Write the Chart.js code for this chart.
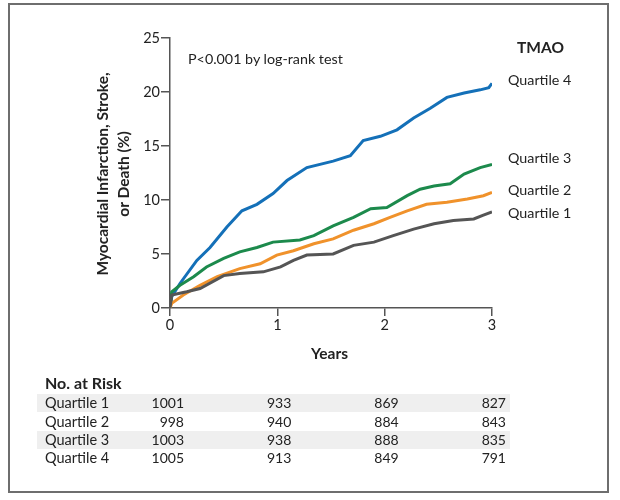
<!DOCTYPE html>
<html>
<head>
<meta charset="utf-8">
<script src="https://cdn.jsdelivr.net/npm/chart.js@4.4.1/dist/chart.umd.min.js"></script>
<style>
  body { margin: 0; background: #fff; font-family: Lato, "Open Sans", sans-serif; color: #222; }
  #wrap { position: relative; width: 620px; height: 500px; }
  #frame { position: absolute; left: 8px; top: 3px; width: 597px; height: 486px; border: 2px solid #6e6e6e; }
  canvas { position: absolute; left: 0; top: 0; }
  .lbl { position: absolute; white-space: nowrap; font-size: 14px; line-height: 16px; }
  .b { font-weight: bold; }
  .shade { position: absolute; left: 37px; width: 473px; height: 18px; background: #efefef; }
  .num { position: absolute; font-size: 14px; line-height: 16px; text-align: right; width: 40px; }
  #ytitle { position: absolute; left: 3px; top: 153px; width: 220px; text-align: center;
            font-weight: bold; font-size: 15.5px; line-height: 21px; transform: rotate(-90deg); }
</style>
</head>
<body>
<div id="wrap">
  <div id="frame"></div>
  <canvas id="km" width="620" height="500"></canvas>
  <div id="ytitle">Myocardial Infarction, Stroke,<br>or Death (%)</div>
  <div class="lbl" style="left:188px; top:51px; font-size:14.3px;">P&lt;0.001 by log-rank test</div>
  <div class="lbl b" style="left:517px; top:39px; font-size:15.5px;">TMAO</div>
  <div class="lbl" style="left:508px; top:72px; font-size:14.3px;">Quartile 4</div>
  <div class="lbl" style="left:508px; top:150px; font-size:14.3px;">Quartile 3</div>
  <div class="lbl" style="left:508px; top:182px; font-size:14.3px;">Quartile 2</div>
  <div class="lbl" style="left:508px; top:205px; font-size:14.3px;">Quartile 1</div>
  <div class="lbl b" style="left:311px; top:345px; font-size:15.5px;">Years</div>
  <div id="table"></div>
</div>
<script>
// Kaplan-Meier style cumulative incidence
const years = [0, 1, 2, 3];
const seriesNames = ['Quartile 1', 'Quartile 2', 'Quartile 3', 'Quartile 4'];
const seriesColors = ['#555555', '#f0922b', '#1c8a4c', '#1470b8'];

const q1Time = [0, 0.016, 0.156, 0.28, 0.5, 0.65, 0.87, 1.03, 1.15, 1.275, 1.52, 1.71, 1.9, 2.08, 2.27, 2.46, 2.64, 2.83, 2.92, 3.0];
const q1Vals = [0, 1.2, 1.5, 1.8, 3.0, 3.2, 3.35, 3.8, 4.4, 4.9, 5.0, 5.8, 6.1, 6.7, 7.3, 7.8, 8.1, 8.25, 8.6, 8.9];

const q2Time = [0, 0.016, 0.124, 0.28, 0.44, 0.65, 0.84, 0.995, 1.15, 1.34, 1.52, 1.71, 1.9, 2.05, 2.21, 2.39, 2.58, 2.77, 2.92, 3.0];
const q2Vals = [0, 0.43, 1.2, 2.1, 2.9, 3.65, 4.1, 4.9, 5.3, 5.95, 6.4, 7.2, 7.8, 8.4, 9.0, 9.6, 9.8, 10.1, 10.4, 10.7];

const q3Time = [0, 0.016, 0.093, 0.22, 0.34, 0.5, 0.65, 0.81, 0.96, 1.21, 1.34, 1.52, 1.71, 1.87, 2.02, 2.21, 2.33, 2.46, 2.61, 2.74, 2.89, 3.0];
const q3Vals = [0, 1.5, 2.1, 2.9, 3.8, 4.6, 5.2, 5.6, 6.1, 6.3, 6.7, 7.6, 8.4, 9.2, 9.3, 10.4, 11.0, 11.3, 11.5, 12.4, 13.0, 13.3];

const q4Time = [0, 0.016, 0.093, 0.25, 0.373, 0.53, 0.67, 0.81, 0.96, 1.09, 1.275, 1.52, 1.68, 1.8, 1.96, 2.115, 2.27, 2.425, 2.58, 2.74, 2.89, 2.97, 3.0];
const q4Vals = [0, 1.04, 2.27, 4.4, 5.6, 7.5, 9.0, 9.6, 10.6, 11.8, 13.0, 13.6, 14.1, 15.5, 15.9, 16.5, 17.6, 18.5, 19.5, 19.9, 20.2, 20.4, 20.8];

// No. at risk at years 0..3
const atRiskQ1 = [1001, 933, 869, 827];
const atRiskQ2 = [998, 940, 884, 843];
const atRiskQ3 = [1003, 938, 888, 835];
const atRiskQ4 = [1005, 913, 849, 791];

const times = [q1Time, q2Time, q3Time, q4Time];
const vals = [q1Vals, q2Vals, q3Vals, q4Vals];

const datasets = seriesNames.map((name, i) => ({
  label: name,
  data: times[i].map((t, j) => ({ x: t, y: vals[i][j] })),
  borderColor: seriesColors[i],
  borderWidth: 3,
  pointRadius: 0,
  tension: 0,
  fill: false
}));

const axisColor = '#555';
const chart = new Chart(document.getElementById('km'), {
  type: 'line',
  data: { datasets },
  options: {
    responsive: false,
    animation: false,
    layout: { padding: { left: 0, top: 38, right: 128, bottom: 162 } },
    plugins: { legend: { display: false }, tooltip: { enabled: false } },
    scales: {
      x: {
        type: 'linear', min: 0, max: 3,
        afterFit: s => { s.height = 30; },
        ticks: { stepSize: 1, color: '#222', font: { family: 'Lato', size: 14.5 }, padding: 1 },
        grid: { drawOnChartArea: false, drawTicks: true, tickLength: 8, color: axisColor, lineWidth: 1.5 },
        border: { color: axisColor, width: 1.5 }
      },
      y: {
        min: 0, max: 25,
        afterFit: s => { s.width = 170; },
        ticks: { stepSize: 5, color: '#222', font: { family: 'Lato', size: 14.5 }, padding: 1 },
        grid: { drawOnChartArea: false, drawTicks: true, tickLength: 9, color: axisColor, lineWidth: 1.5 },
        border: { color: axisColor, width: 1.5 }
      }
    }
  }
});

// at-risk table, columns aligned to the x scale positions
const table = document.getElementById('table');
const rows = [atRiskQ1, atRiskQ2, atRiskQ3, atRiskQ4];
const rowTops = [394, 413, 431, 449];
let html = '<div class="lbl b" style="left:45px; top:375px; font-size:16px;">No. at Risk</div>';
rows.forEach((r, i) => {
  if (i % 2 === 0) html += `<div class="shade" style="top:${rowTops[i]}px"></div>`;
  html += `<div class="lbl" style="left:45px; top:${rowTops[i] + 1}px; font-size:14.5px;">${seriesNames[i]}</div>`;
  r.forEach((n, j) => {
    const x = chart.scales.x.getPixelForValue(years[j]);
    html += `<div class="num" style="left:${x + 14 - 40}px; top:${rowTops[i] + 1}px">${n}</div>`;
  });
});
table.innerHTML = html;
</script>
</body>
</html>
